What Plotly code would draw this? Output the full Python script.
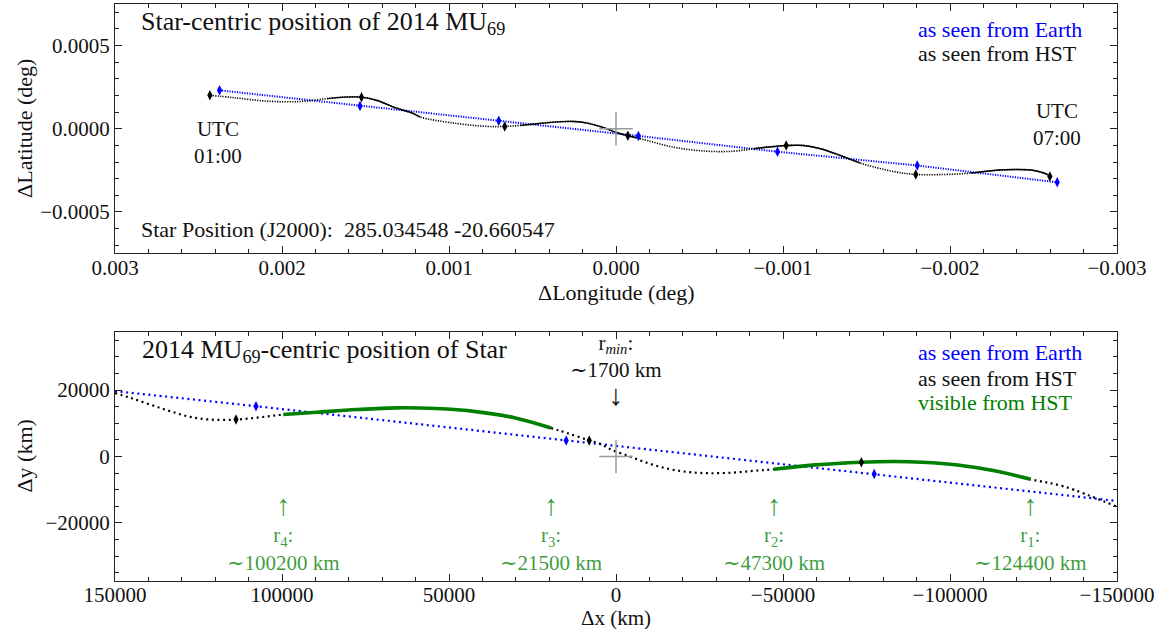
import plotly.graph_objects as go

FONT = "'Liberation Serif', 'DejaVu Serif', 'Times New Roman', serif"
BLUE = "#0000ff"
BLACK = "#000000"
GREEN = "#008000"
GREEN_NOTE = "rgba(0,128,0,0.78)"
AXIS = "#222222"

# ---------------- upper panel: star-centric offsets (deg) ----------------
earth_lon = [0.002374, 0.001533, 0.000702, -0.000134, -0.000967, -0.001804, -0.002642]
earth_lat = [0.000231, 0.000137, 0.000048, -0.000043, -0.000138, -0.000221, -0.000322]

hst_lon = [0.002432, 0.002289, 0.002089, 0.001889, 0.001729, 0.001630, 0.001524,
           0.001430, 0.001331, 0.001211, 0.001171, 0.000971, 0.000771, 0.000666,
           0.000572, 0.000472, 0.000372, 0.000253, 0.000172, 0.000073, -0.000007,
           -0.000071, -0.000147, -0.000346, -0.000546, -0.000705, -0.000825, -0.000945,
           -0.001019, -0.001125, -0.001225, -0.001344, -0.001464, -0.001662, -0.001795,
           -0.001963, -0.002123, -0.002262, -0.002402, -0.002502, -0.002582, -0.002598]
hst_lat = [0.000201, 0.000187, 0.000166, 0.000164, 0.000181, 0.000190, 0.000190,
           0.000170, 0.000130, 0.000090, 0.000070, 0.000034, 0.000014, 0.000014,
           0.000020, 0.000030, 0.000040, 0.000044, 0.000034, 0.000006, -0.000024,
           -0.000042, -0.000060, -0.000111, -0.000135, -0.000135, -0.000120, -0.000107,
           -0.000101, -0.000101, -0.000120, -0.000161, -0.000207, -0.000257, -0.000275,
           -0.000275, -0.000267, -0.000251, -0.000245, -0.000251, -0.000275, -0.000287]

hst_mark_lon = [0.002432, 0.001524, 0.000666, -0.000071, -0.001019, -0.001795, -0.002598]
hst_mark_lat = [0.000201, 0.000190, 0.000014, -0.000042, -0.000101, -0.000275, -0.000287]

# longitude windows in which the star is visible from HST
hst_visible_lon = [(0.001729, 0.001171), (0.000572, -0.000147),
                   (-0.000825, -0.001464), (-0.002123, -0.002598)]

utc_start, utc_end = "01:00", "07:00"
star_ra, star_dec = "285.034548", "-20.660547"

# ---------------- lower panel: object-centric star position (km) ----------------
earth_dx = [150000, 107780, 14920, -77300, -150000]
earth_dy = [19700, 15150, 4850, -5250, -13400]
earth_mark_dx = [107780, 14920, -77300]
earth_mark_dy = [15150, 4850, -5250]

hst_dx = [150000, 145500, 139500, 133500, 127500, 121560, 113770, 106590, 99610,
          89600, 77700, 65800, 53900, 42020, 30130, 19430, 14680, 8000, 4790, 1800,
          -4190, -10180, -16170, -22160, -28140, -35120, -41110, -47190, -59580,
          -73460, -83070, -91610, -102290, -112960, -124170, -134310, -150000]
hst_dy = [19100, 17700, 15670, 13640, 11940, 11120, 11120, 11820, 12640,
          13330, 14140, 14650, 14440, 13530, 11620, 8590, 7070, 4850, 3850, 2240,
          0, -2210, -3820, -4730, -5030, -4850, -4330, -3840, -2530,
          -1720, -1520, -1720, -2530, -4240, -6870, -9090, -15150]
hst_mark_dx = [113770, 8000, -73460]
hst_mark_dy = [11120, 4850, -1720]

# dx windows visible from HST, each given from ingress to egress
visible_dx = [(99610, 19430), (-47190, -124170)]
# chord labels at the window edges: (dx, index, distance in km)
r_marks = [(99610, "4", "100200"), (19430, "3", "21500"),
           (-47190, "2", "47300"), (-124170, "1", "124400")]
r_min_km = "1700"


def window(xs, ys, a, b):
    lo, hi = min(a, b), max(a, b)
    sel = [(x, y) for x, y in zip(xs, ys) if lo <= x <= hi]
    return [p[0] for p in sel], [p[1] for p in sel]


fig = go.Figure()

# ---- upper panel traces ----
fig.add_trace(go.Scatter(x=earth_lon, y=earth_lat, mode="lines",
                         line=dict(color=BLUE, width=2, dash="1.2px,1.3px"),
                         xaxis="x", yaxis="y"))
fig.add_trace(go.Scatter(x=hst_lon, y=hst_lat, mode="lines",
                         line=dict(color=BLACK, width=1.6, dash="1.2px,1.3px",
                                   shape="spline", smoothing=1.0),
                         xaxis="x", yaxis="y"))
for a, b in hst_visible_lon:
    sx, sy = window(hst_lon, hst_lat, a, b)
    fig.add_trace(go.Scatter(x=sx, y=sy, mode="lines",
                             line=dict(color=BLACK, width=1.4, shape="spline", smoothing=1.0),
                             xaxis="x", yaxis="y"))
fig.add_trace(go.Scatter(x=earth_lon, y=earth_lat, mode="markers",
                         marker=dict(symbol="diamond-tall", size=7.5, color=BLUE),
                         xaxis="x", yaxis="y"))
fig.add_trace(go.Scatter(x=hst_mark_lon, y=hst_mark_lat, mode="markers",
                         marker=dict(symbol="diamond-tall", size=7.5, color=BLACK),
                         xaxis="x", yaxis="y"))
fig.add_trace(go.Scatter(x=[0], y=[0], mode="markers",
                         marker=dict(symbol="cross-thin", size=24,
                                     line=dict(color="#9a9a9a", width=1.5)),
                         xaxis="x", yaxis="y"))

# ---- lower panel traces ----
fig.add_trace(go.Scatter(x=earth_dx, y=earth_dy, mode="lines",
                         line=dict(color=BLUE, width=2.2, dash="2px,3.6px"),
                         xaxis="x2", yaxis="y2"))
fig.add_trace(go.Scatter(x=hst_dx, y=hst_dy, mode="lines",
                         line=dict(color=BLACK, width=2.2, dash="2px,3.6px",
                                   shape="spline", smoothing=1.0),
                         xaxis="x2", yaxis="y2"))
for a, b in visible_dx:
    sx, sy = window(hst_dx, hst_dy, a, b)
    fig.add_trace(go.Scatter(x=sx, y=sy, mode="lines",
                             line=dict(color=GREEN, width=3.6, shape="spline", smoothing=1.0),
                             xaxis="x2", yaxis="y2"))
fig.add_trace(go.Scatter(x=earth_mark_dx, y=earth_mark_dy, mode="markers",
                         marker=dict(symbol="diamond-tall", size=7.5, color=BLUE),
                         xaxis="x2", yaxis="y2"))
fig.add_trace(go.Scatter(x=hst_mark_dx, y=hst_mark_dy, mode="markers",
                         marker=dict(symbol="diamond-tall", size=7.5, color=BLACK),
                         xaxis="x2", yaxis="y2"))
fig.add_trace(go.Scatter(x=[0], y=[0], mode="markers",
                         marker=dict(symbol="cross-thin", size=24,
                                     line=dict(color="#9a9a9a", width=1.5)),
                         xaxis="x2", yaxis="y2"))

axis_common = dict(
    showline=True, linecolor=AXIS, linewidth=1, mirror="allticks",
    ticks="inside", ticklen=7, tickwidth=1, tickcolor=AXIS,
    showgrid=False, zeroline=False,
    tickfont=dict(family=FONT, size=21, color="#111"),
)

fig.update_layout(
    width=1158, height=629,
    margin=dict(l=115, r=41, t=4, b=48),
    paper_bgcolor="white", plot_bgcolor="white",
    showlegend=False,
    font=dict(family=FONT, size=21, color="#111"),
    xaxis=dict(axis_common, domain=[0, 1], anchor="y", range=[0.003, -0.003],
               dtick=0.001, tick0=0, tickformat=".3f", ticklabelstandoff=-5,
               minor=dict(dtick=0.0002, ticklen=4, ticks="inside", tickcolor=AXIS)),
    yaxis=dict(axis_common, domain=[0.5676, 1], anchor="x", range=[-0.00075, 0.00075],
               dtick=0.0005, tick0=0, tickformat=".4f",
               minor=dict(dtick=0.0001, ticklen=4, ticks="inside", tickcolor=AXIS)),
    xaxis2=dict(axis_common, domain=[0, 1], anchor="y2", range=[150000, -150000],
                dtick=50000, tick0=0, tickformat="d", ticklabelstandoff=-5,
                minor=dict(dtick=10000, ticklen=4, ticks="inside", tickcolor=AXIS)),
    yaxis2=dict(axis_common, domain=[0, 0.4315], anchor="x2", range=[-37500, 37500],
                dtick=20000, tick0=0, tickformat="d",
                minor=dict(dtick=5000, ticklen=4, ticks="inside", tickcolor=AXIS)),
)


def note(text, x, y, xref, yref, size=22, color="#111", xanchor="left",
         yanchor="middle", angle=0):
    fig.add_annotation(text=text, x=x, y=y, xref=xref, yref=yref, showarrow=False,
                       xanchor=xanchor, yanchor=yanchor, textangle=angle,
                       font=dict(family=FONT, size=size, color=color))


ARROW_UP = "<span style='font-size:29px'>↑</span>"
ARROW_DOWN = "<span style='font-size:29px'>↓</span>"

# ---- upper panel text ----
note("Star-centric position of 2014 MU<sub>69</sub>", 0.024, 0.925, "x domain", "y domain", size=26)
note("as seen from Earth", 0.799, 0.896, "x domain", "y domain", color=BLUE)
note("as seen from HST", 0.799, 0.800, "x domain", "y domain")
note(f"UTC<br>{utc_start}", 0.1028, 0.443, "x domain", "y domain", xanchor="center", size=21)
note(f"UTC<br>{utc_end}", 0.940, 0.517, "x domain", "y domain", xanchor="center", size=21)
note(f"Star Position (J2000):  {star_ra} {star_dec}", 0.024, 0.098, "x domain", "y domain")
note("ΔLatitude (deg)", -0.0898, 0.7835, "paper", "paper", xanchor="center", angle=-90)
note("ΔLongitude (deg)", 0.5, 0.5, "paper", "paper", xanchor="center")

# ---- lower panel text ----
note("2014 MU<sub>69</sub>-centric position of Star", 0.0246, 0.925, "x domain", "y2 domain", size=26)
note("as seen from Earth", 0.799, 0.916, "x domain", "y2 domain", color=BLUE)
note("as seen from HST", 0.799, 0.815, "x domain", "y2 domain")
note("visible from HST", 0.799, 0.715, "x domain", "y2 domain", color=GREEN)
note(f"r<sub><i>min</i></sub>:<br>∼{r_min_km} km<br>{ARROW_DOWN}", 0, 0.842, "x2", "y2 domain",
     xanchor="center", size=21)
for dx, idx, km in r_marks:
    note(f"{ARROW_UP}<br>r<sub>{idx}</sub>:<br>∼{km} km", dx, 0.197, "x2", "y2 domain",
         xanchor="center", color=GREEN_NOTE, size=21)
note("Δy (km)", -0.0898, 0.2157, "paper", "paper", xanchor="center", angle=-90)
note("Δx (km)", 0.5, -0.064, "paper", "paper", xanchor="center", size=21)

fig.write_html("out.html")
